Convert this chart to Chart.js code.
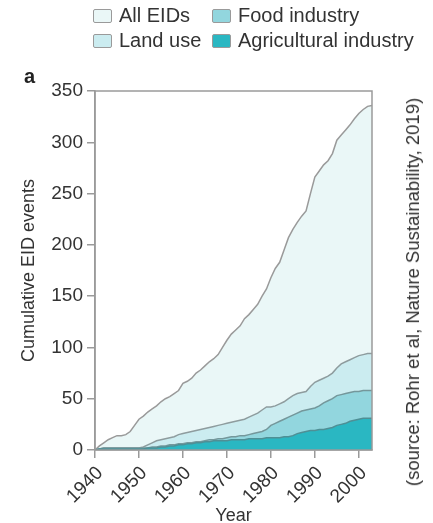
<!DOCTYPE html>
<html>
<head>
<meta charset="utf-8">
<script src="https://cdn.jsdelivr.net/npm/chart.js@4"></script>
<style>
  body { margin: 0; background: #fff; font-family: "Liberation Sans", Arial, sans-serif; color: #333; }
  #wrap { position: relative; width: 433px; height: 523px; overflow: hidden; }
  #chart { position: absolute; left: 0; top: 0; }
  #legend { position: absolute; left: 93px; top: 5px; display: grid; grid-template-columns: 119px auto; row-gap: 4px; font-size: 20px; }
  #legend div { display: flex; align-items: center; height: 21px; white-space: nowrap; }
  #legend span.box { display: inline-block; width: 17px; height: 12px; border: 1px solid #9a9a9a; border-radius: 2px; margin-right: 7px; }
  #panel { position: absolute; left: 24px; top: 65px; font-size: 20px; font-weight: bold; color: #222; }
  #source { position: absolute; left: 413px; top: 292px; font-size: 18.5px; white-space: nowrap; transform: translate(-50%, -50%) rotate(-90deg); }
</style>
</head>
<body>
<div id="wrap">
  <canvas id="chart" width="433" height="523"></canvas>
  <div id="legend"></div>
  <div id="panel">a</div>
  <div id="source">(source: Rohr et al, Nature Sustainability, 2019)</div>
</div>
<script>
let years = [1940, 1941, 1942, 1943, 1944, 1945, 1946, 1947, 1948, 1949,
  1950, 1951, 1952, 1953, 1954, 1955, 1956, 1957, 1958, 1959,
  1960, 1961, 1962, 1963, 1964, 1965, 1966, 1967, 1968, 1969,
  1970, 1971, 1972, 1973, 1974, 1975, 1976, 1977, 1978, 1979,
  1980, 1981, 1982, 1983, 1984, 1985, 1986, 1987, 1988, 1989,
  1990, 1991, 1992, 1993, 1994, 1995, 1996, 1997, 1998, 1999,
  2000, 2001, 2002, 2003]

let allEids = [0, 4, 7, 10, 12, 14, 14, 15, 18, 24,
  30, 33, 37, 40, 43, 47, 50, 52, 55, 58,
  65, 67, 70, 75, 78, 82, 86, 89, 93, 100,
  107, 113, 117, 121, 128, 132, 137, 142, 150, 157,
  168, 177, 183, 195, 207, 215, 222, 228, 233, 250,
  266, 272, 278, 282, 289, 302, 307, 312, 317, 323,
  328, 332, 335, 336]

let landUse = [0, 1, 2, 2, 2, 2, 2, 2, 2, 2,
  2, 3, 5, 7, 9, 10, 11, 12, 13, 15,
  16, 17, 18, 19, 20, 21, 22, 23, 24, 25,
  26, 27, 28, 29, 30, 32, 34, 36, 39, 42,
  42, 43, 45, 47, 50, 53, 55, 56, 57, 62,
  66, 68, 70, 72, 75, 80, 84, 86, 88, 90,
  92, 93, 94, 94]

let foodIndustry = [0, 1, 2, 2, 2, 2, 2, 2, 2, 2,
  2, 2, 2, 3, 3, 4, 4, 5, 5, 6,
  6, 7, 7, 8, 8, 9, 10, 10, 11, 11,
  12, 13, 13, 14, 14, 15, 16, 17, 18, 20,
  24, 26, 28, 30, 32, 34, 36, 38, 39, 40,
  41, 43, 46, 48, 50, 53, 54, 55, 56, 57,
  57, 58, 58, 58]

let agIndustry = [0, 1, 1, 1, 1, 1, 1, 1, 1, 1,
  1, 1, 2, 2, 2, 3, 3, 4, 4, 5,
  5, 6, 6, 7, 7, 8, 8, 9, 9, 9,
  9, 10, 10, 10, 10, 11, 11, 11, 11, 12,
  12, 12, 12, 13, 13, 14, 16, 17, 18, 19,
  19, 20, 20, 21, 22, 24, 25, 26, 28, 29,
  30, 31, 31, 31]

let xTicks = [1940, 1950, 1960, 1970, 1980, 1990, 2000]
let yTicks = [0, 50, 100, 150, 200, 250, 300, 350]

let series = [
  { label: 'All EIDs', data: allEids, fill: '#eaf7f7', line: '#9a9a9a' },
  { label: 'Land use', data: landUse, fill: '#cbecf0', line: '#8e9c9e' },
  { label: 'Food industry', data: foodIndustry, fill: '#92d6de', line: '#74979b' },
  { label: 'Agricultural industry', data: agIndustry, fill: '#2ab7c2', line: '#4f8f95' }
]

// legend laid out like the figure: two columns, two rows
let legendOrder = [0, 2, 1, 3]
let legend = document.getElementById('legend')
legendOrder.forEach(i => {
  let item = document.createElement('div')
  item.innerHTML = '<span class="box" style="background:' + series[i].fill + '"></span>' + series[i].label
  legend.appendChild(item)
})

let frame = {
  id: 'frame',
  afterDatasetsDraw(chart) {
    let a = chart.chartArea
    let ctx = chart.ctx
    ctx.save()
    ctx.strokeStyle = '#9a9a9a'
    ctx.lineWidth = 1.5
    ctx.strokeRect(a.left, a.top, a.right - a.left, a.bottom - a.top)
    ctx.restore()
  }
}

let font = { family: '"Liberation Sans", Arial, sans-serif', size: 19 }
let titleFont = { family: '"Liberation Sans", Arial, sans-serif', size: 18 }

// draw the biggest area first so the subsets sit on top
let datasets = series.slice().reverse().map(s => ({
  label: s.label,
  data: years.map((y, i) => ({ x: y, y: s.data[i] })),
  backgroundColor: s.fill,
  borderColor: s.line,
  borderWidth: 1.5,
  fill: 'origin',
  pointRadius: 0,
  tension: 0
}))

new Chart(document.getElementById('chart'), {
  type: 'line',
  data: { datasets: datasets },
  options: {
    responsive: false,
    animation: false,
    layout: { padding: { top: 91, right: 61, left: 0, bottom: 0 } },
    plugins: { legend: { display: false }, tooltip: { enabled: false } },
    scales: {
      x: {
        type: 'linear',
        min: 1940,
        max: 2003,
        afterFit: s => { s.height = 73 },
        afterBuildTicks: s => { s.ticks = xTicks.map(v => ({ value: v })) },
        ticks: { color: '#333', font: font, minRotation: 45, maxRotation: 45, padding: 4, labelOffset: 5, callback: v => String(v) },
        grid: { drawOnChartArea: false, color: '#9a9a9a', lineWidth: 1.5, tickLength: 8 },
        border: { color: '#9a9a9a', width: 1.5 },
        title: { display: true, text: 'Year', color: '#333', font: titleFont, padding: { top: 0, bottom: -4 } }
      },
      y: {
        min: 0,
        max: 350,
        afterFit: s => { s.width = 95 },
        afterBuildTicks: s => { s.ticks = yTicks.map(v => ({ value: v })) },
        ticks: { color: '#333', font: font, padding: 4 },
        grid: { drawOnChartArea: false, color: '#9a9a9a', lineWidth: 1.5, tickLength: 8 },
        border: { color: '#9a9a9a', width: 1.5 },
        title: { display: true, text: 'Cumulative EID events', color: '#333', font: titleFont, padding: { top: 18, bottom: 0 } }
      }
    }
  },
  plugins: [frame]
})
</script>
</body>
</html>
